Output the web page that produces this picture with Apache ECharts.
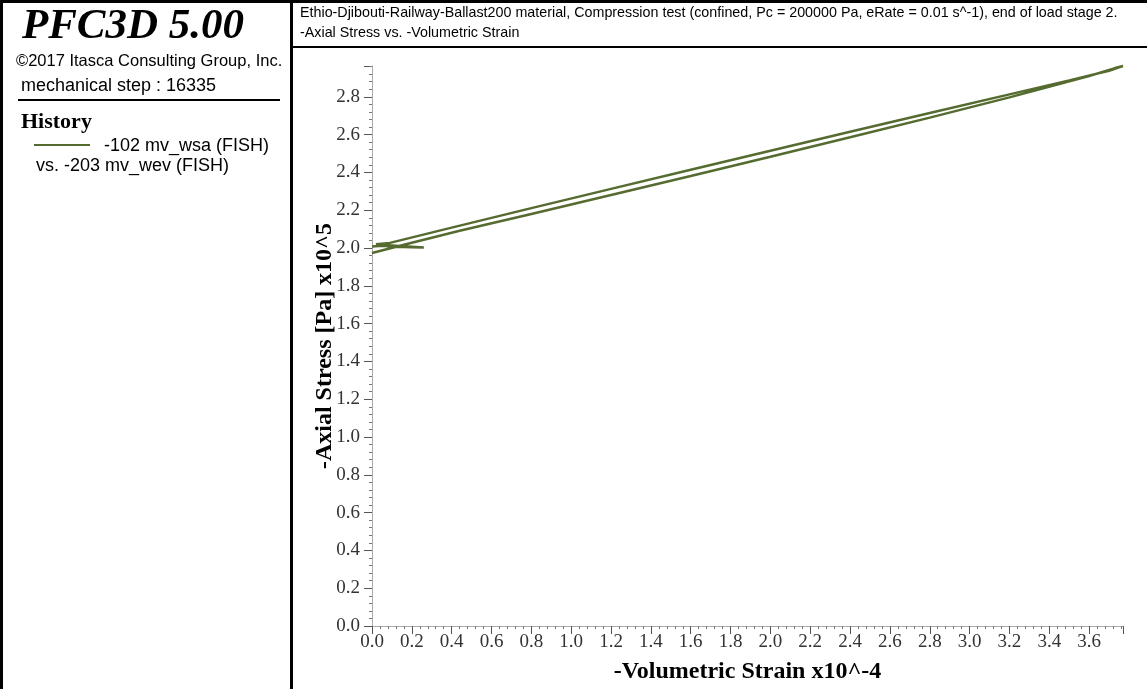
<!DOCTYPE html>
<html>
<head>
<meta charset="utf-8">
<script src="https://cdn.jsdelivr.net/npm/echarts@6/dist/echarts.min.js"></script>
<style>
  html, body { margin: 0; padding: 0; background: #fff; }
  #page { position: relative; width: 1147px; height: 689px; overflow: hidden; background: #fff; }
  .abs { position: absolute; white-space: nowrap; color: #000; }
  .sans { font-family: 'Liberation Sans', Arial, sans-serif; }
  .serif { font-family: 'Liberation Serif', 'Times New Roman', serif; }
  #chart { position: absolute; left: 0; top: 0; width: 1147px; height: 689px; }
  .fit { transform-origin: 0 0; }
</style>
</head>
<body>
<div id="page">
  <div id="chart"></div>

  <!-- frame lines -->
  <div class="abs" style="left:0;top:0;width:1147px;height:3px;background:#000;"></div>
  <div class="abs" style="left:0;top:0;width:3px;height:689px;background:#000;"></div>
  <div class="abs" style="left:290px;top:0;width:3px;height:689px;background:#000;"></div>
  <div class="abs" style="left:293px;top:46px;width:854px;height:2px;background:#000;"></div>

  <!-- info panel -->
  <div class="abs serif" style="left:0;width:266px;top:1px;text-align:center;font-weight:bold;font-style:italic;font-size:43px;line-height:46px;">PFC3D 5.00</div>
  <div class="abs sans" style="left:16px;top:50px;font-size:16.5px;line-height:20px;">©2017 Itasca Consulting Group, Inc.</div>
  <div class="abs sans" style="left:21px;top:75px;font-size:18px;line-height:21px;">mechanical step : 16335</div>
  <div class="abs" style="left:18px;top:99px;width:262px;height:2px;background:#000;"></div>
  <div class="abs serif" style="left:21px;top:109px;font-weight:bold;font-size:22px;line-height:24px;">History</div>
  <div class="abs" style="left:34px;top:144px;width:56px;height:2px;background:#556b2f;"></div>
  <div class="abs sans" style="left:104px;top:135px;font-size:18px;line-height:21px;">-102 mv_wsa (FISH)</div>
  <div class="abs sans" style="left:36px;top:155px;font-size:18px;line-height:21px;">vs. -203 mv_wev (FISH)</div>

  <!-- plot header -->
  <div id="hdr1" class="abs sans fit" data-w="818" style="left:300px;top:3px;font-size:15px;line-height:18px;">Ethio-Djibouti-Railway-Ballast200 material, Compression test (confined, Pc = 200000 Pa, eRate = 0.01 s^-1), end of load stage 2.</div>
  <div id="hdr2" class="abs sans fit" style="left:300px;top:23px;font-size:15px;line-height:18px;">-Axial Stress vs. -Volumetric Strain</div>
</div>

<script>
// History record: -Volumetric Strain (x10^-4) against -Axial Stress (x10^5 Pa)
// Initial settling at the confining pressure
const settleStrain = [0.00, 0.05, 0.12, 0.20, 0.26, 0.18, 0.08, 0.02, 0.09];
const settleStress = [2.008, 2.012, 2.006, 2.004, 2.003, 2.008, 2.014, 2.020, 2.027];

// Loading branch up to the peak of the stage
const loadStrain = [0.40, 0.80, 1.20, 1.60, 2.00, 2.40, 2.80, 3.20, 3.50, 3.70, 3.75, 3.77, 3.76, 3.73];
const loadStress = [2.108, 2.211, 2.313, 2.414, 2.515, 2.615, 2.714, 2.813, 2.887, 2.938, 2.956, 2.963, 2.958, 2.952];

// Unloading branch back toward the origin
const unloadStrain = [3.60, 3.20, 2.80, 2.40, 2.00, 1.60, 1.20, 0.80, 0.44, 0.20, 0.00];
const unloadStress = [2.910, 2.797, 2.690, 2.586, 2.483, 2.381, 2.280, 2.180, 2.091, 2.028, 1.974];

// Axis tick labels
const xTickLabels = ['0.0','0.2','0.4','0.6','0.8','1.0','1.2','1.4','1.6','1.8','2.0','2.2','2.4','2.6','2.8','3.0','3.2','3.4','3.6'];
const yTickLabels = ['0.0','0.2','0.4','0.6','0.8','1.0','1.2','1.4','1.6','1.8','2.0','2.2','2.4','2.6','2.8'];

// Squeeze the header lines to the narrow width used by the plot title block
(function fitHeader() {
  const h1 = document.getElementById('hdr1');
  const h2 = document.getElementById('hdr2');
  const k = Number(h1.dataset.w) / h1.scrollWidth;
  h1.style.transform = 'scaleX(' + k + ')';
  h2.style.transform = 'scaleX(' + k + ')';
})();

const strainAll = settleStrain.concat(loadStrain, unloadStrain);
const stressAll = settleStress.concat(loadStress, unloadStress);
const points = strainAll.map((s, i) => [s, stressAll[i]]);

const tickFont = { fontFamily: "'Liberation Serif','Times New Roman',serif", fontSize: 19, color: '#333' };
const nameFont = { fontFamily: "'Liberation Serif','Times New Roman',serif", fontSize: 24, fontWeight: 'bold', color: '#000' };

function labelFor(list) {
  return function (v) {
    const t = v.toFixed(1);
    return (list.indexOf(t) >= 0 && Math.abs(v * 5 - Math.round(v * 5)) < 1e-6) ? t : '';
  };
}

const chart = echarts.init(document.getElementById('chart'), null, { renderer: 'canvas' });
chart.setOption({
  animation: false,
  backgroundColor: 'transparent',
  grid: { left: 372, right: 24, top: 66, bottom: 63, containLabel: false },
  xAxis: {
    type: 'value',
    min: 0,
    max: 'dataMax',
    interval: 0.2,
    name: '-Volumetric Strain x10^-4',
    nameLocation: 'middle',
    nameGap: 34,
    nameMoveOverlap: false,
    nameTextStyle: nameFont,
    axisLine: { show: true, onZero: false, lineStyle: { color: '#aaa', width: 1 } },
    axisTick: { show: true, inside: false, length: 8, lineStyle: { color: '#555' } },
    minorTick: { show: true, splitNumber: 5, length: 3, lineStyle: { color: '#777' } },
    axisLabel: Object.assign({ margin: 7, showMaxLabel: false, formatter: labelFor(xTickLabels) }, tickFont),
    splitLine: { show: false }
  },
  yAxis: {
    type: 'value',
    min: 0,
    max: 'dataMax',
    interval: 0.2,
    name: '-Axial Stress [Pa] x10^5',
    nameLocation: 'middle',
    nameGap: 35,
    nameMoveOverlap: false,
    nameTextStyle: nameFont,
    axisLine: { show: true, onZero: false, lineStyle: { color: '#aaa', width: 1 } },
    axisTick: { show: true, inside: false, length: 8, lineStyle: { color: '#555' } },
    minorTick: { show: true, splitNumber: 5, length: 3, lineStyle: { color: '#777' } },
    axisLabel: Object.assign({ margin: 12, showMaxLabel: false, formatter: labelFor(yTickLabels) }, tickFont),
    splitLine: { show: false }
  },
  series: [{
    type: 'line',
    data: points,
    showSymbol: false,
    smooth: false,
    clip: false,
    lineStyle: { color: '#556b2f', width: 2.5 }
  }]
});
</script>
</body>
</html>
